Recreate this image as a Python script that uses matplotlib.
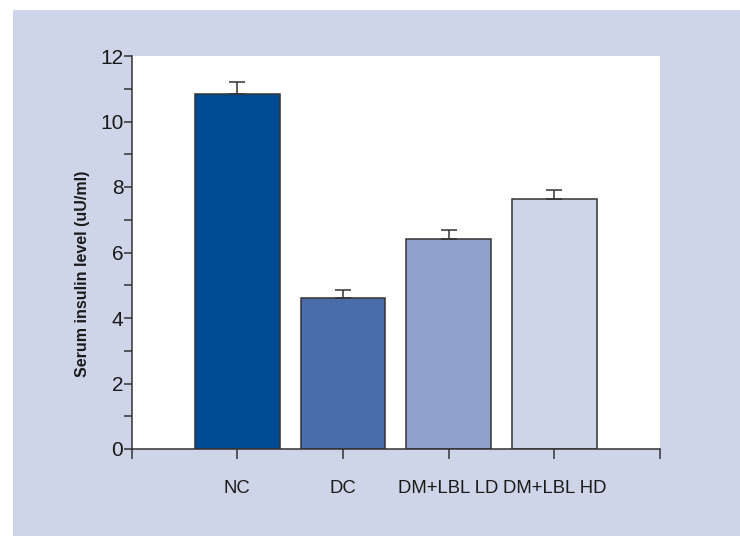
import matplotlib.pyplot as plt
from matplotlib.patches import Rectangle
from matplotlib.ticker import MultipleLocator

groups = ['NC', 'DC', 'DM+LBL LD', 'DM+LBL HD']
insulin = [10.85, 4.62, 6.40, 7.63]
sem = [0.35, 0.23, 0.29, 0.29]
bar_colors = ['#004b93', '#4a6ca9', '#8fa1ca', '#cfd5e8']

plt.rcParams['font.family'] = ['Liberation Sans', 'DejaVu Sans']

fig = plt.figure(figsize=(7.4, 5.36), dpi=100)
panel = '#cfd5e8'
fig.patches.append(Rectangle((13 / 740, 0), 1 - 13 / 740, 1 - 10 / 536,
                             transform=fig.transFigure, facecolor=panel,
                             edgecolor='none', zorder=-10))

ax = fig.add_axes([131.7 / 740, 1 - 449 / 536, (660 - 131.7) / 740, (449 - 56) / 536])
ax.set_facecolor('white')

x = list(range(1, len(groups) + 1))
ax.bar(x, insulin, width=0.8, color=bar_colors, edgecolor='#333333', linewidth=1.1, zorder=2)
ax.errorbar(x, insulin, yerr=[[0] * len(sem), sem], fmt='none', ecolor='#333333',
            elinewidth=1.1, capsize=6, capthick=1.1, zorder=3)

ax.set_xlim(0, 5)
ax.set_ylim(0, 12)
ax.set_xticks(range(0, 6))
ax.set_xticklabels([''] + groups + [''])
ax.yaxis.set_major_locator(MultipleLocator(2))
ax.yaxis.set_minor_locator(MultipleLocator(1))

for s in ['top', 'right']:
    ax.spines[s].set_visible(False)
for s in ['left', 'bottom']:
    ax.spines[s].set_color('#333333')
    ax.spines[s].set_linewidth(1.1)

ax.tick_params(axis='x', length=7, width=1.1, color='#333333', pad=15,
               labelsize=13.3, labelcolor='#1a1a1a')
ax.tick_params(axis='y', which='major', length=6, width=1.1, color='#333333',
               pad=0, labelsize=15, labelcolor='#1a1a1a')
ax.tick_params(axis='y', which='minor', length=6, width=1.1, color='#333333')

ax.set_ylabel('Serum insulin level (uU/ml)', fontsize=11.5, fontweight='bold',
              color='#1a1a1a')
ax.yaxis.set_label_coords(-0.079, 0.445)

plt.savefig('out.png', dpi=100)
